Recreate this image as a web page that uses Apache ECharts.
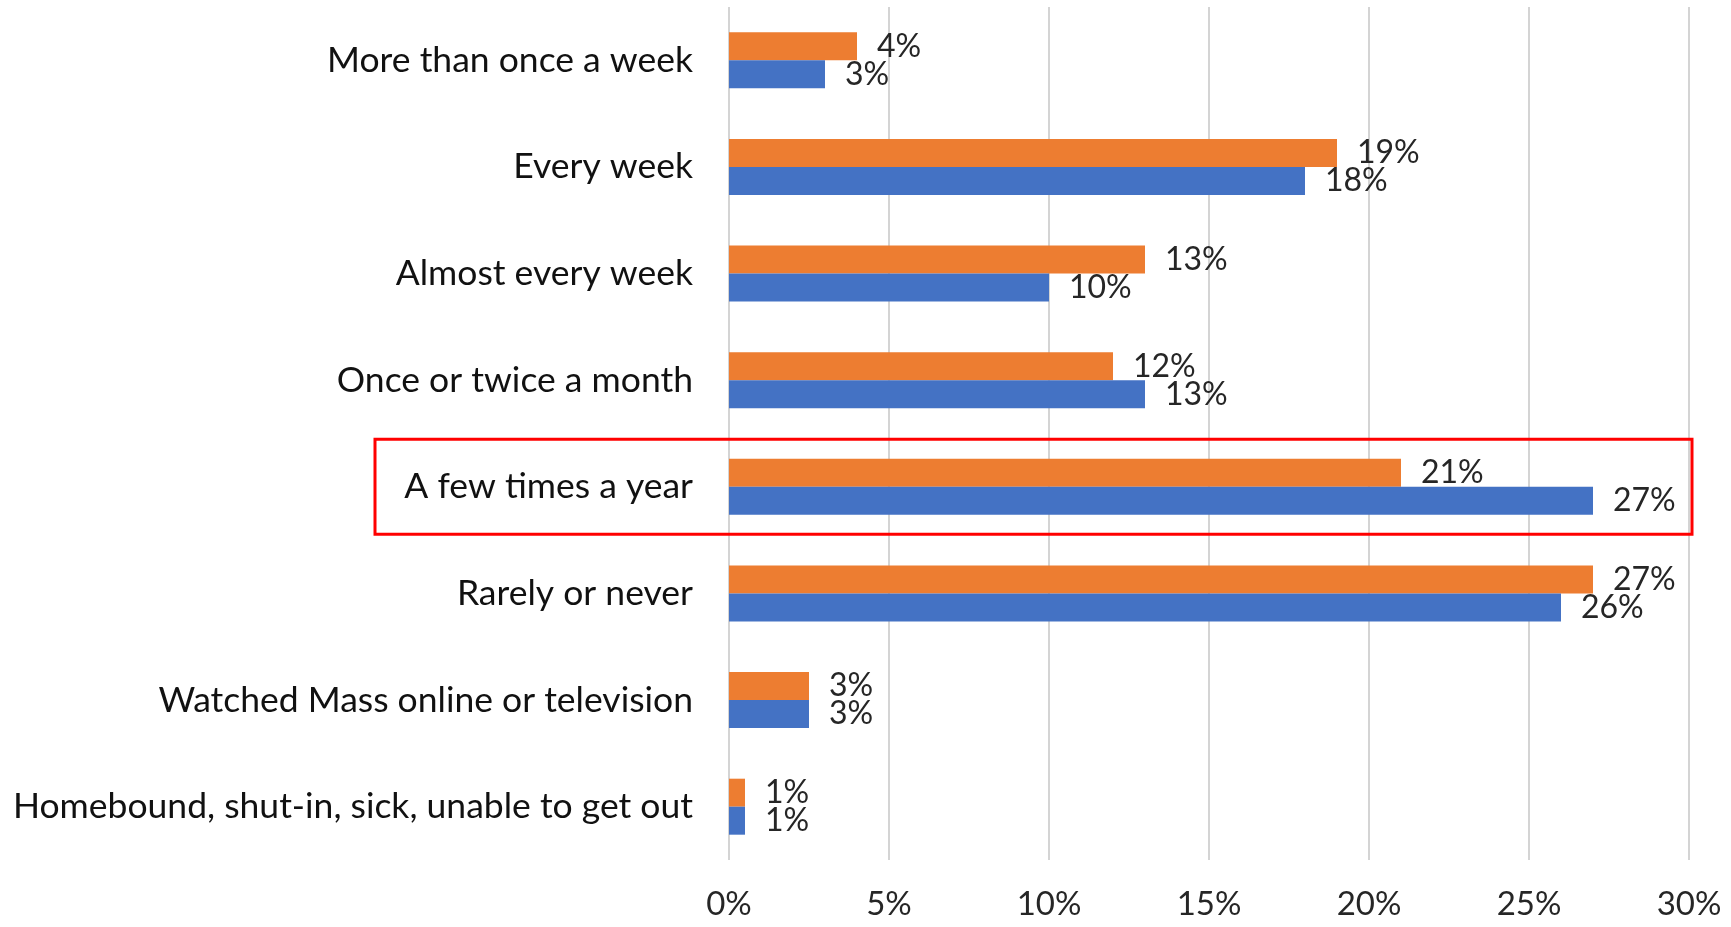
<!DOCTYPE html>
<html>
<head>
<meta charset="utf-8">
<title>Mass attendance</title>
<script src="https://cdn.jsdelivr.net/npm/echarts@6/dist/echarts.min.js"></script>
<style>
  html, body { margin: 0; padding: 0; background: #ffffff; }
  #chart { width: 1731px; height: 927px; }
</style>
</head>
<body>
<div id="chart"></div>
<script>
// Response categories, listed top to bottom
const categories = [
  'More than once a week',
  'Every week',
  'Almost every week',
  'Once or twice a month',
  'A few times a year',
  'Rarely or never',
  'Watched Mass online or television',
  'Homebound, shut-in, sick, unable to get out'
];

// Percent of respondents per category
const orangeValues = [4, 19, 13, 12, 21, 27, 2.5, 0.5];
const blueValues   = [3, 18, 10, 13, 27, 26, 2.5, 0.5];

// Value axis range (percent)
const axisMin = 0;
const axisMax = 30;
const axisStep = 5;

// Category outlined in red
const highlighted = 'A few times a year';

const FONT = 'Lato, "Open Sans", sans-serif';
const chart = echarts.init(document.getElementById('chart'));

const valueLabel = {
  show: true,
  position: 'right',
  distance: 20,
  fontFamily: FONT,
  fontSize: 32,
  color: '#262626',
  formatter: p => Math.round(p.value) + '%'
};

chart.setOption({
  animation: false,
  backgroundColor: '#ffffff',
  grid: { left: 729, right: 42, top: 7, bottom: 67, containLabel: false },
  xAxis: {
    type: 'value',
    min: axisMin,
    max: axisMax,
    interval: axisStep,
    axisLine: { show: false },
    axisTick: { show: false },
    splitLine: { show: true, lineStyle: { color: '#d4d4d4', width: 2 } },
    axisLabel: {
      margin: 28,
      fontFamily: FONT,
      fontSize: 33,
      color: '#262626',
      formatter: '{value}%'
    }
  },
  yAxis: {
    type: 'category',
    data: categories,
    inverse: true,
    axisLine: { show: false },
    axisTick: { show: false },
    splitLine: { show: false },
    axisLabel: {
      margin: 36,
      fontFamily: FONT,
      fontSize: 35.5,
      color: '#111111'
    }
  },
  series: [
    {
      name: 'Group A',
      type: 'bar',
      data: orangeValues,
      barWidth: 28,
      barGap: '0%',
      itemStyle: { color: '#ED7D31' },
      label: valueLabel
    },
    {
      name: 'Group B',
      type: 'bar',
      data: blueValues,
      barWidth: 28,
      barGap: '0%',
      itemStyle: { color: '#4472C4' },
      label: valueLabel
    }
  ]
});

// Red outline around the highlighted row
function drawHighlight() {
  const yc = chart.convertToPixel({ yAxisIndex: 0 }, highlighted);
  const y0 = chart.convertToPixel({ yAxisIndex: 0 }, categories[0]);
  const y1 = chart.convertToPixel({ yAxisIndex: 0 }, categories[1]);
  const band = Math.abs(y1 - y0);
  const h = band * 0.89;
  const xRight = chart.convertToPixel({ xAxisIndex: 0 }, axisMax) + 3;
  const xLeft = 375;
  chart.setOption({
    graphic: [{
      type: 'rect',
      shape: { x: xLeft, y: yc - h / 2, width: xRight - xLeft, height: h },
      style: { fill: 'none', stroke: '#ff0000', lineWidth: 3 },
      z: 100
    }]
  });
}
drawHighlight();
</script>
</body>
</html>
